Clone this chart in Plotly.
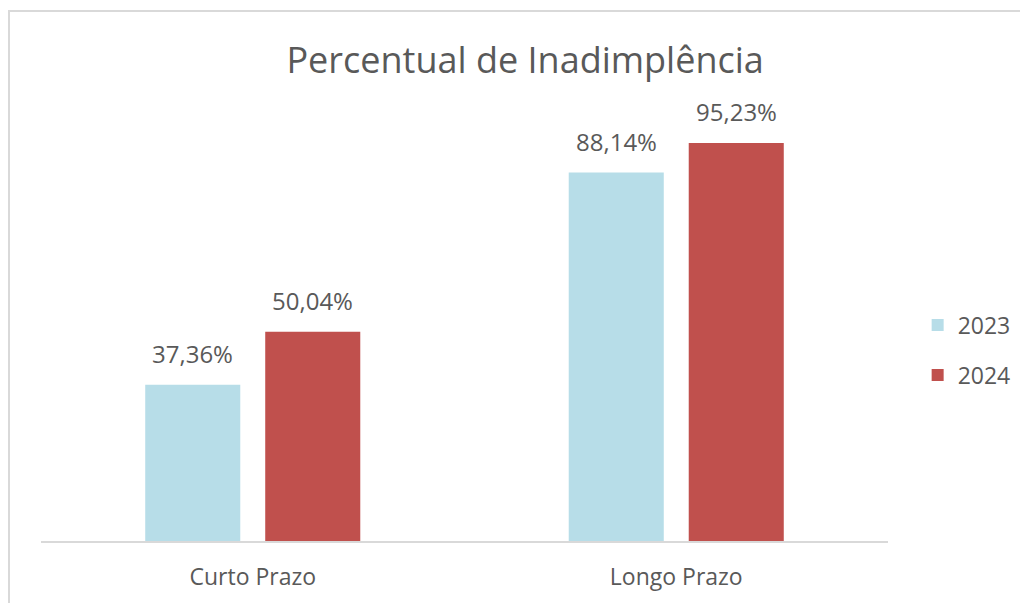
import plotly.graph_objects as go

categories = ["Curto Prazo", "Longo Prazo"]
series_names = ["2023", "2024"]
values_2023 = [37.36, 88.14]
values_2024 = [50.04, 95.23]
labels_2023 = ["37,36%", "88,14%"]
labels_2024 = ["50,04%", "95,23%"]

colors = ["#B7DDE8", "#C0504D"]
FONT = "Open Sans"
TXT = "#595959"

fig = go.Figure()
series = [(series_names[0], values_2023, labels_2023), (series_names[1], values_2024, labels_2024)]
for i, (name, vals, labs) in enumerate(series):
    fig.add_trace(go.Bar(
        x=categories, y=vals, name=name, marker_color=colors[i],
        marker_line_width=0, legendgroup=name, hoverinfo="skip",
    ))

annotations = []
for i, (name, vals, labs) in enumerate(series):
    shift = -60 if i == 0 else 60
    for c, v, t in zip(categories, vals, labs):
        annotations.append(dict(
            x=c, y=v, xref="x", yref="y", text=t, showarrow=False,
            xanchor="center", yanchor="bottom", xshift=shift, yshift=13,
            font=dict(family=FONT, size=24, color=TXT),
        ))

fig.update_layout(
    width=1020, height=595,
    paper_bgcolor="white", plot_bgcolor="white",
    margin=dict(l=33, r=140, t=92, b=62, autoexpand=False),
    barmode="group", bargap=0.4333, bargroupgap=0.208,
    title=dict(text="Percentual de Inadimplência", x=0.507, xanchor="center",
               y=0.9126, yanchor="middle", yref="container",
               font=dict(family=FONT, size=36, color=TXT)),
    xaxis=dict(showline=True, linecolor="#D9D9D9", linewidth=2, ticks="",
               tickfont=dict(family=FONT, size=23, color=TXT), showgrid=False,
               ticklabelstandoff=14),
    yaxis=dict(range=[0, 105.5], visible=False, showgrid=False, zeroline=False),
    legend=dict(x=1.035, xanchor="left", y=0.433, yanchor="middle",
                font=dict(family=FONT, size=23, color=TXT),
                tracegroupgap=17, traceorder="grouped"),
    annotations=annotations,
    shapes=[dict(type="rect", xref="paper", yref="paper",
                 x0=-0.0378, x1=1.4, y0=-0.3, y1=1.2018,
                 line=dict(color="#D9D9D9", width=2), fillcolor="rgba(0,0,0,0)", layer="below")],
)

fig.write_html("out.html")
